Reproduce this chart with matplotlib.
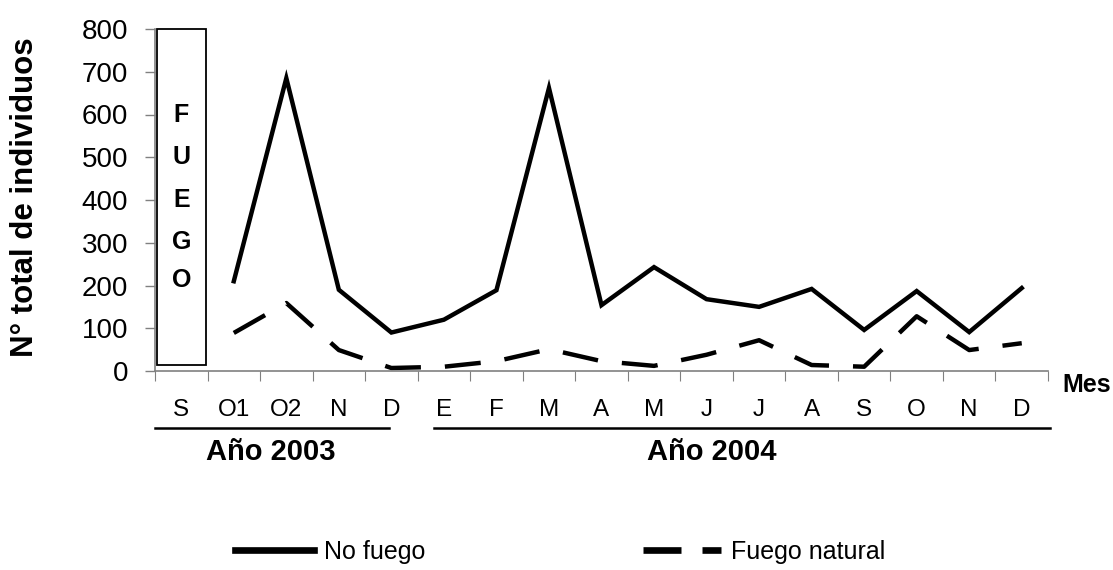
import numpy as np
import matplotlib.pyplot as plt
import matplotlib.transforms as mtransforms
from matplotlib.patches import Rectangle
from matplotlib.lines import Line2D

plt.rcParams['font.family'] = ['Liberation Sans', 'DejaVu Sans']

meses = ['S', 'O1', 'O2', 'N', 'D', 'E', 'F', 'M', 'A', 'M', 'J', 'J', 'A', 'S', 'O', 'N', 'D']
# first month (S) has no data: fire
no_fuego = [np.nan, 210, 685, 190, 90, 120, 189, 662, 154, 243, 168, 150, 192, 96, 187, 91, 194]
fuego_natural = [np.nan, 89, 159, 49, 7, 10, 23, 51, 23, 12, 38, 72, 14, 10, 128, 49, 65]
fuego_letras = ['F', 'U', 'E', 'G', 'O']
fuego_y = [600, 500, 400, 302, 213]
yticks = [0, 100, 200, 300, 400, 500, 600, 700, 800]

fig = plt.figure(figsize=(11.13, 5.70), dpi=100)
ax = fig.add_axes([155/1113, 1-371/570, (1048-155)/1113, 342/570])

x = np.arange(len(meses))
ax.plot(x, no_fuego, color='black', lw=3.2, solid_joinstyle='miter')
ax.plot(x, fuego_natural, color='black', lw=3.2, dashes=(8.1, 5.4))

ax.set_xlim(-0.5, len(meses)-0.5)
ax.set_ylim(0, 800)
ax.set_yticks(yticks)
ax.set_xticks(np.arange(len(meses)+1)-0.5)
ax.set_xticklabels([])
ax.set_xticks(x, minor=True)
ax.set_xticklabels(meses, minor=True)
ax.tick_params(axis='x', which='major', length=7.5, direction='out', color='#808080')
ax.tick_params(axis='x', which='minor', length=0, pad=20, labelsize=17.5)
ax.tick_params(axis='y', length=7.5, width=1, color='#808080', pad=12, labelsize=20)
for s in ['top', 'right']:
    ax.spines[s].set_visible(False)
for s in ['left', 'bottom']:
    ax.spines[s].set_color('#808080')
    ax.spines[s].set_linewidth(1.2)

# FUEGO box
ax.add_patch(Rectangle((-0.46, 14), 0.94, 786, facecolor='white', edgecolor='black', lw=1.3, zorder=3, clip_on=False))
for letra, yy in zip(fuego_letras, fuego_y):
    ax.text(0, yy, letra, ha='center', va='center', fontsize=18, fontweight='bold', zorder=4)

fig.text(25/1113, 1-197/570, 'N° total de individuos', rotation=90, ha='center', va='center',
         fontsize=22.5, fontweight='bold')

trans = mtransforms.blended_transform_factory(ax.transData, ax.transAxes)
ax.plot([-0.5, 3.95], [-0.1667, -0.1667], color='black', lw=1.8, transform=trans, clip_on=False)
ax.plot([4.81, 16.54], [-0.1667, -0.1667], color='black', lw=1.8, transform=trans, clip_on=False)
ax.text(1.71, -0.237, 'Año 2003', transform=trans, ha='center', va='center', fontsize=21, fontweight='bold')
ax.text(10.1, -0.237, 'Año 2004', transform=trans, ha='center', va='center', fontsize=21, fontweight='bold')
ax.text(1062/1113, 1-385/570, 'Mes', transform=fig.transFigure, ha='left', va='center', fontsize=18, fontweight='bold')

handles = [Line2D([], [], color='black', lw=4.8),
           Line2D([], [], color='black', lw=4.8, dashes=(5.7, 3.15))]
fig.legend(handles, ['No fuego', 'Fuego natural'], loc='center left',
           bbox_to_anchor=(235/1113, 1-552/570), ncol=2, frameon=False,
           fontsize=18, handlelength=3.15, handletextpad=0.4, columnspacing=8.7,
           borderpad=0, borderaxespad=0)

plt.savefig('out.png', dpi=100)
plt.close()
